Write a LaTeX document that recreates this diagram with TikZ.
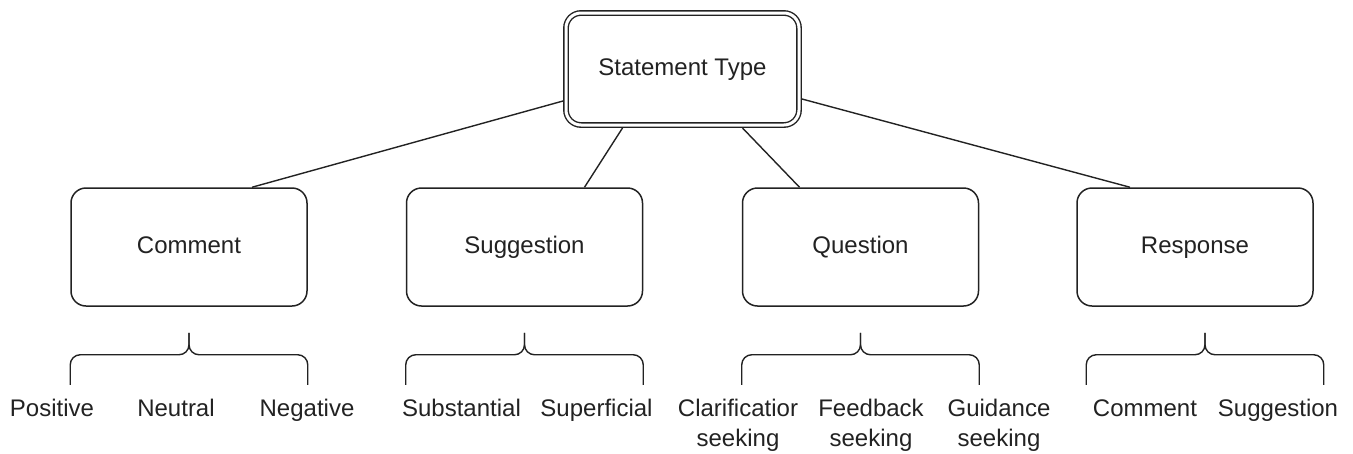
\documentclass[tikz,border=0pt]{standalone}
\usepackage{fontspec}
\setmainfont{Liberation Sans}
\usepackage{tikz}
\definecolor{tink}{HTML}{222222}
\tikzset{
  tbox/.style={rounded corners=15pt, draw=tink, fill=white, line width=1.5pt,
               minimum width=236pt, minimum height=118pt, inner sep=0pt,
               text height=17pt, text depth=5pt, text=tink,
               font=\fontsize{24}{28}\selectfont},
  troot/.style={tbox, double=white, double distance=3pt, line width=1.4pt,
                minimum width=233pt, minimum height=112pt, outer sep=3pt},
  tlink/.style={draw=tink, line width=1.4pt},
  tbrace/.style={draw=tink, line width=1.4pt, rounded corners=10pt},
  tlbl/.style={anchor=base, align=center, inner sep=0pt, text=tink,
               font=\fontsize{24}{30}\selectfont},
}
\begin{document}
\begin{tikzpicture}[x=1pt,y=1pt]
  \useasboundingbox (0,0) rectangle (1353,-453);

  \node[troot] (top) at (682.5,-69) {Statement Type};

  \node[tbox] (comment)    at (189,-247)   {Comment};
  \node[tbox] (suggestion) at (524.5,-247) {Suggestion};
  \node[tbox] (question)   at (860.5,-247) {Question};
  \node[tbox] (response)   at (1195,-247)  {Response};

  \draw[tlink] ([yshift=-32pt]top.west)  -- ([xshift=63pt]comment.north);
  \draw[tlink] ([xshift=-60pt]top.south) -- ([xshift=60pt]suggestion.north);
  \draw[tlink] ([xshift=60pt]top.south)  -- ([xshift=-61pt]question.north);
  \draw[tlink] ([yshift=-30pt]top.east)  -- ([xshift=-65pt]response.north);

  % braces under each type
  \foreach \n/\s in {comment/0,suggestion/0,question/0,response/10}{
    \draw[tbrace] ([shift={(\s,-78)}]\n.south west) |- ([shift={(\s,-48)}]\n.south)
                  -- ([shift={(\s,-26)}]\n.south);
    \draw[tbrace] ([shift={(\s,-78)}]\n.south east) |- ([shift={(\s,-48)}]\n.south)
                  -- ([shift={(\s,-26)}]\n.south);
  }

  \node[tlbl] (pos)  at (52,-416)   {Positive};
  \node[tlbl] (neu)  at (176,-416)  {Neutral};
  \node[tlbl] (neg)  at (307,-416)  {Negative};

  \node[tlbl] (sub)  at (461.5,-416) {Substantial};
  \node[tlbl] (sup)  at (596.5,-416) {Superficial};

  % two lines: base is the last line
  \node[tlbl] (cla)  at (738,-446)  {Clarificatior\\seeking};
  \node[tlbl] (fee)  at (871,-446)  {Feedback\\seeking};
  \node[tlbl] (gui)  at (999,-446)  {Guidance\\seeking};

  \node[tlbl] (rcom) at (1145,-416) {Comment};
  \node[tlbl] (rsug) at (1278,-416) {Suggestion};

\end{tikzpicture}
\end{document}
